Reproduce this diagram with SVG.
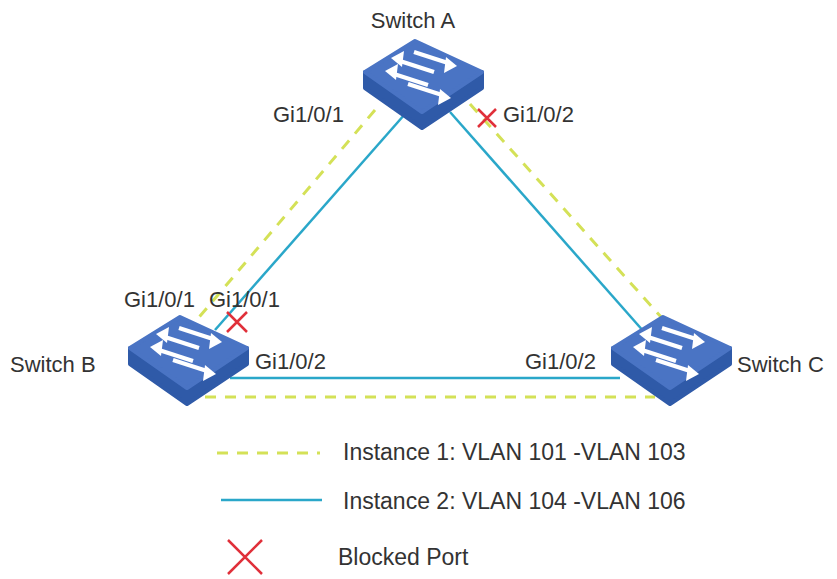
<svg xmlns="http://www.w3.org/2000/svg" width="837" height="579" viewBox="0 0 837 579">
<style>
text{font-family:"Liberation Sans",Arial,sans-serif;font-size:22px;fill:#333}
.lg{font-size:23px}
.y{stroke:#d4e157;stroke-width:3;stroke-dasharray:11 9;fill:none}
.b{stroke:#2aa7c9;stroke-width:2.5;fill:none}
.x{stroke:#e0303a;stroke-width:2.5;fill:none}
</style>
<defs>
<g id="sw">
<path d="M-57,-4 L-57,12 L0,52 L60,12 L60,-4 L0,36 Z" fill="#2f5aa8" stroke="#2f5aa8" stroke-width="4" stroke-linejoin="round"/>
<path d="M-57,-4 L-7,-35 L60,-4 L0,36 Z" fill="#4a74c4" stroke="#4a74c4" stroke-width="4" stroke-linejoin="round"/>
<g stroke="#fff" stroke-width="4" fill="#fff">
<line x1="-22" y1="-15" x2="12" y2="-4"/><path d="M-31,-18 L-18,-25 L-20,-9Z" stroke="none"/>
<line x1="-8" y1="-24" x2="26" y2="-13"/><path d="M35,-10 L22,-3 L24,-19Z" stroke="none"/>
<line x1="-28" y1="-2" x2="6" y2="9"/><path d="M-37,-5 L-24,-12 L-26,4Z" stroke="none"/>
<line x1="-14" y1="8" x2="20" y2="19"/><path d="M29,22 L16,29 L18,13Z" stroke="none"/>
</g>
</g>
</defs>
<g id="connectors">
<line class="y" x1="375" y1="110" x2="195" y2="322"/>
<line class="y" x1="470" y1="104" x2="662" y2="318"/>
<line class="y" x1="205" y1="397" x2="655" y2="397"/>
<line class="b" x1="405" y1="114" x2="215" y2="330"/>
<line class="b" x1="450" y1="112" x2="645" y2="333"/>
<line class="b" x1="230" y1="378" x2="620" y2="378"/>
</g>
<g id="switch-a"><use href="#sw" transform="translate(422,76)"/><text x="413" y="28" text-anchor="middle">Switch A</text></g>
<g id="switch-b"><use href="#sw" transform="translate(187,352)"/><text x="10" y="372">Switch B</text></g>
<g id="switch-c"><use href="#sw" transform="translate(670,352)"/><text x="737" y="372">Switch C</text></g>
<g id="labels">
<text x="273" y="122">Gi1/0/1</text>
<text x="503" y="122">Gi1/0/2</text>
<text x="124" y="307">Gi1/0/1</text>
<text x="209" y="307">Gi1/0/1</text>
<text x="255" y="369">Gi1/0/2</text>
<text x="525" y="369">Gi1/0/2</text>
</g>
<g id="blocked">
<path class="x" d="M227,312 L247,332 M247,312 L227,332"/>
<path class="x" d="M478,109 L496,127 M496,109 L478,127"/>
</g>
<g id="legend">
<line class="y" x1="217" y1="453" x2="320" y2="453"/>
<line class="b" x1="221" y1="500" x2="322" y2="500"/>
<path class="x" d="M228,540 L262,574 M262,540 L228,574"/>
<text class="lg" x="343" y="460">Instance 1: VLAN 101 -VLAN 103</text>
<text class="lg" x="343" y="509">Instance 2: VLAN 104 -VLAN 106</text>
<text class="lg" x="338" y="565">Blocked Port</text>
</g>
</svg>
